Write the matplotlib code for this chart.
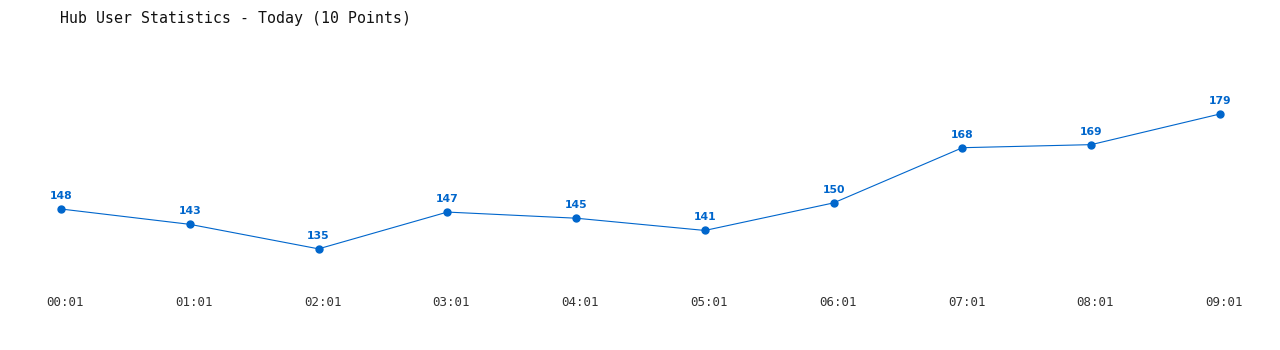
import matplotlib
matplotlib.use("Agg")
import matplotlib.pyplot as plt

times = ["00:01", "01:01", "02:01", "03:01", "04:01", "05:01", "06:01", "07:01", "08:01", "09:01"]
users = [148, 143, 135, 147, 145, 141, 150, 168, 169, 179]
title = "Hub User Statistics - Today (10 Points)"

fig = plt.figure(figsize=(12.8, 3.5), dpi=100)
ax = fig.add_axes([0, 0, 1, 1])
ax.set_axis_off()
xs = list(range(len(times)))
ax.set_xlim(-0.4737, 9.466)
ax.set_ylim(102.0, 216.19)

color = "#0066cc"
ax.plot(xs, users, color=color, linewidth=0.8, marker="o", markersize=5)

for x, v in zip(xs, users):
    ax.annotate(str(v), (x, v), xytext=(0, 9.4), textcoords="offset points",
                ha="center", va="center", color=color, fontsize=7.8,
                fontweight="bold", family="DejaVu Sans")

for x, t in zip(xs, times):
    ax.annotate(t, (x, 102.0), xycoords="data", xytext=(3, 47 * 0.72),
                textcoords="offset points", ha="center", va="center",
                color="#333333", fontsize=9, family="DejaVu Sans Mono")

fig.text(60 / 1280, 1 - 18 / 350, title, ha="left", va="center",
         fontsize=10.75, family="DejaVu Sans Mono", color="#111111")

fig.savefig("out.png", dpi=100, facecolor="white")
